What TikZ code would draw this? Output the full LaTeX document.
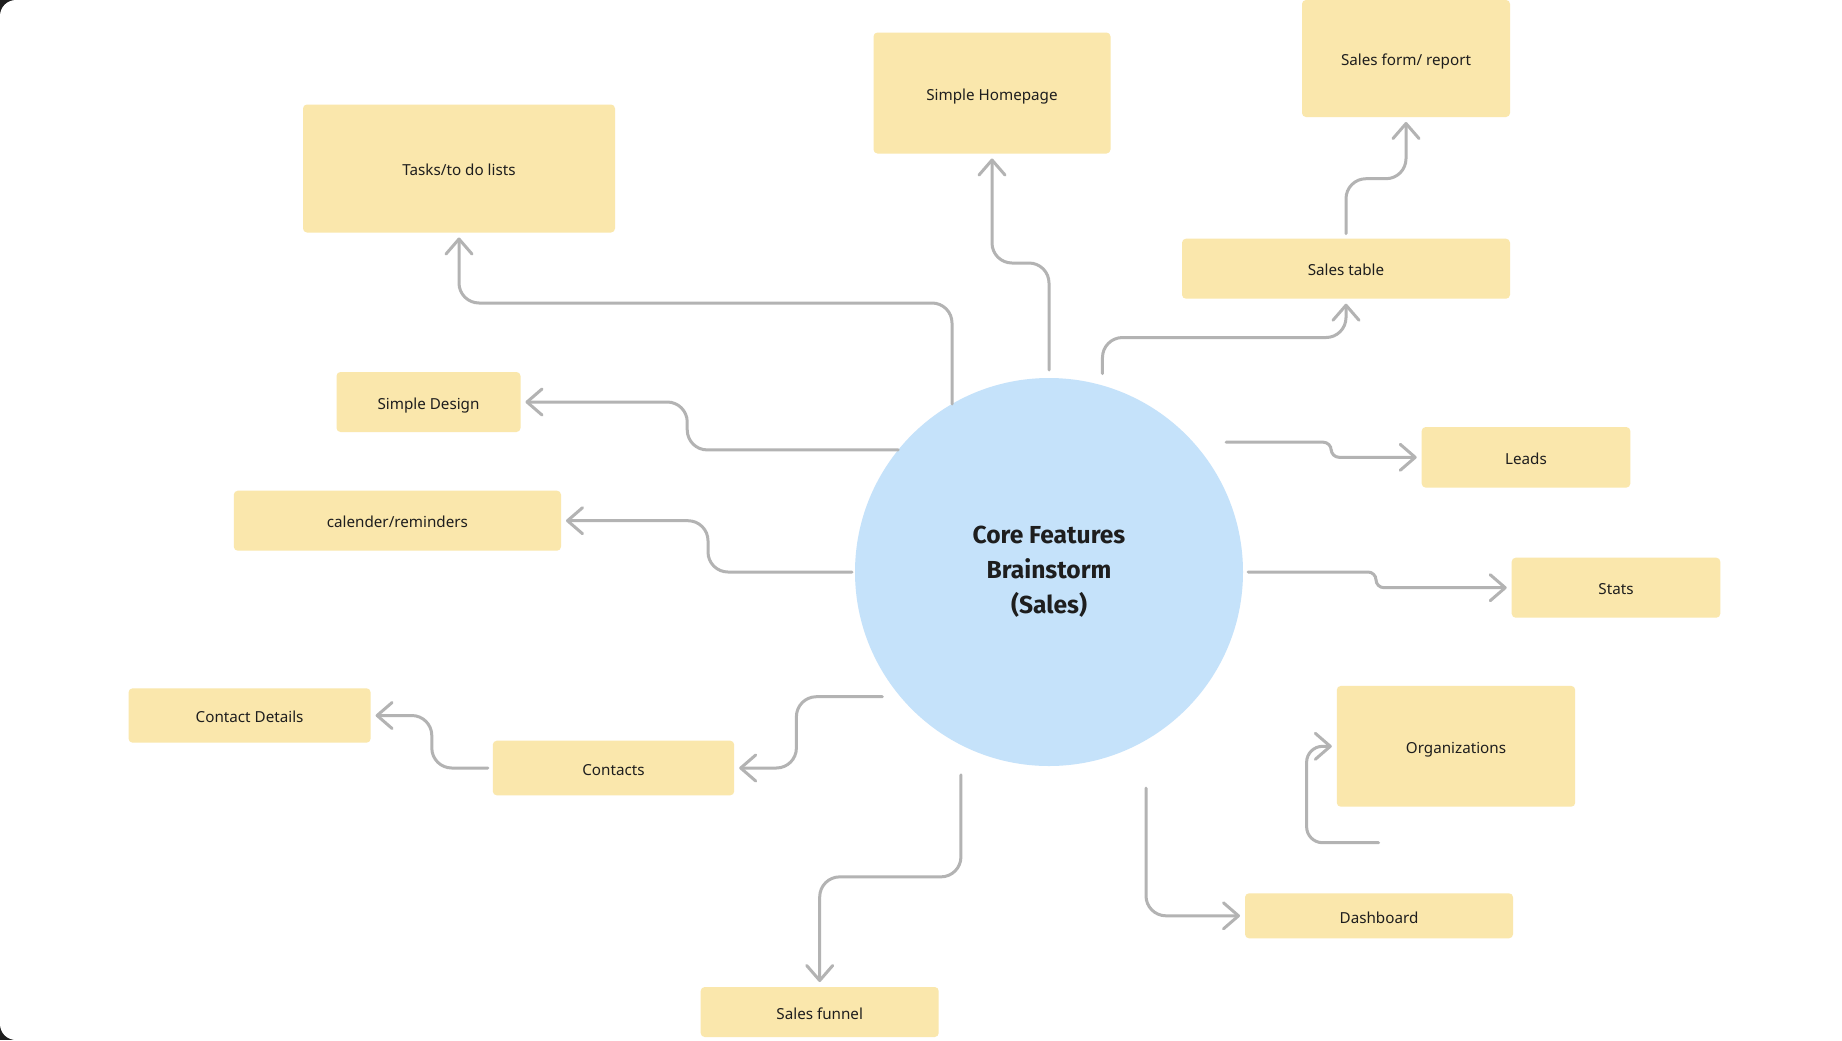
\documentclass[tikz,border=0pt]{standalone}
\usepackage{fontspec}
\setmainfont{Noto Sans}
\newfontfamily\corefont{Fira Sans}
\usetikzlibrary{arrows.meta}
\definecolor{notefill}{RGB}{250,231,172}
\definecolor{corefill}{RGB}{197,226,250}
\definecolor{linkgray}{RGB}{179,179,179}
\definecolor{inkdark}{RGB}{30,30,30}

\begin{document}
\begin{tikzpicture}[x=0.5pt,y=-0.5pt,
	note/.style={fill=notefill,rounded corners=2pt,inner sep=0pt,outer sep=2.5pt,text=inkdark,text height=7.2pt,text depth=0pt,font=\fontsize{7.6}{9}\selectfont},
	link/.style={draw=linkgray,line width=1.5pt,line cap=round,rounded corners=10pt,-{Straight Barb[length=7.5pt,width=13pt,round]}}]
	% Frame
	\useasboundingbox (0,0) rectangle (1842,1040);
	\fill[inkdark] (0,0) rectangle (1842,1040);
	\fill[white,rounded corners=8pt] (1842,0) -- (0,0) -- (0,1040) -- (1842,1040);

	% Centre
	\node (core) [circle,fill=corefill,minimum size=194pt,inner sep=0pt,outer sep=0pt,align=center,text=inkdark,font=\corefont\fontsize{12.3}{17.4}\selectfont\bfseries] at (1049,572) {Core Features\\Brainstorm\\(Sales)};

	\begin{scope}
	% Top
	\node (tasks) [note,minimum width=156pt,minimum height=64pt] at (459,168.5) {Tasks/to do lists};
	\node (home) [note,minimum width=118.5pt,minimum height=60.5pt] at (992,93) {Simple Homepage};
	\node (form) [note,minimum width=104pt,minimum height=58.5pt] at (1406,58.5) {Sales form/ report};
	\node (table) [note,minimum width=164pt,minimum height=30pt] at (1346,268.7) {Sales table};
	\draw[link] (core.120.7) -- ++(0,-101) -| (tasks.south);
	\draw[link] ([yshift=4pt]core.north) -- ++(0,-107) -| (home.south);
	\draw[link] ([yshift=6pt]core.74) -- ++(0,-36) -| (table.south);
	\draw[link] (table.north) -- ++(0,-55) -| (form.south);
	\end{scope}

	\begin{scope}
	% Left
	\node (design) [note,minimum width=92pt,minimum height=30pt] at (428.5,402) {Simple Design};
	\node (cal) [note,minimum width=163.6pt,minimum height=30pt] at (397.4,520.7) {calender/reminders};
	\node (details) [note,minimum width=121pt,minimum height=27.2pt] at (249.6,715.5) {Contact Details};
	\node (contacts) [note,minimum width=120.7pt,minimum height=27.3pt] at (613.5,768) {Contacts};
	\draw[link] (core.141.3) -- ++(-211,0) |- (design.east);
	\draw[link] ([xshift=-1.5pt]core.west) -- ++(-144,0) |- (cal.east);
	\draw[link] ([xshift=-9pt]core.220) -- ++(-86,0) |- (contacts.east);
	\draw[link] (contacts.west) -- ++(-56,0) |- (details.east);
	\end{scope}

	\begin{scope}
	% Right
	\node (leads) [note,minimum width=104.3pt,minimum height=30.3pt] at (1526,457.3) {Leads};
	\node (stats) [note,minimum width=104.3pt,minimum height=30pt] at (1616,587.7) {Stats};
	\node (org) [note,minimum width=119.2pt,minimum height=60.4pt] at (1456,746.3) {Organizations};
	\coordinate (orgtail) at (1378.6,842.7);
	\draw[link,rounded corners=4pt] ([xshift=16.5pt]core.42) -- ++(105,0) |- (leads.west);
	\draw[link,rounded corners=4pt] ([xshift=2.5pt]core.east) -- ++(128,0) |- (stats.west);
	\draw[link,rounded corners=8pt] (orgtail) -- ++(-72,0) |- (org.west);
	\end{scope}

	\begin{scope}
	% Bottom
	\node (funnel) [note,minimum width=119pt,minimum height=25pt] at (819.7,1012) {Sales funnel};
	\node (dash) [note,minimum width=134pt,minimum height=22.5pt] at (1379,915.8) {Dashboard};
	\draw[link] ([yshift=-15pt]core.243) -- ++(0,102) -| (funnel.north);
	\draw[link] ([yshift=-24pt]core.300) |- (dash.west);
	\end{scope}
\end{tikzpicture}
\end{document}
